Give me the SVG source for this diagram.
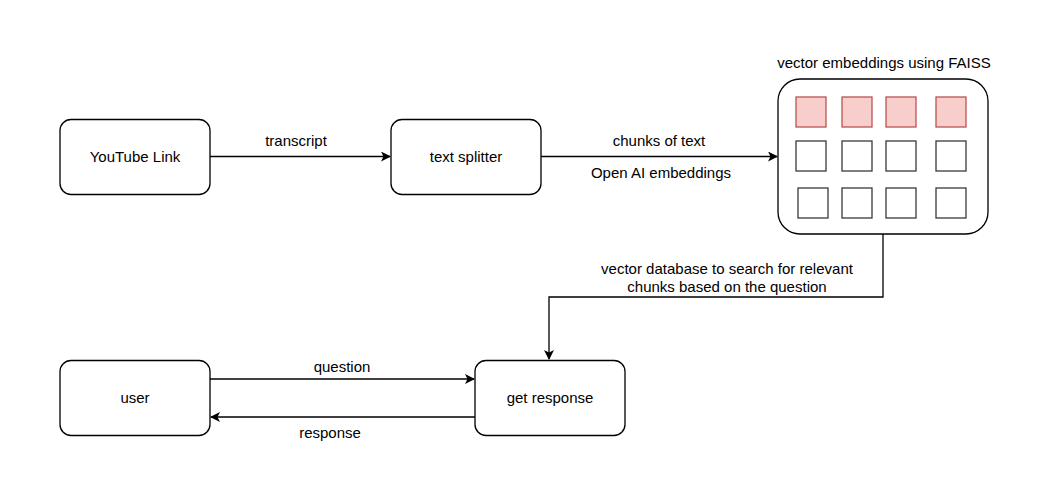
<svg xmlns="http://www.w3.org/2000/svg" width="1058" height="497" viewBox="0 0 1058 497">
<style>
.box{fill:#fff;stroke:#000;stroke-width:1.3}
.sq{fill:#fff;stroke:#36393d;stroke-width:1.3}
.sqr{fill:#f8cecc;stroke:#b85450;stroke-width:1.3}
.edge{fill:none;stroke:#000;stroke-width:1.3}
text{font-family:"Liberation Sans",Arial,Helvetica,sans-serif;font-size:15px;fill:#000;text-anchor:middle}
</style>
<defs>
<marker id="arr" viewBox="0 0 10 10" refX="9" refY="5" markerWidth="10" markerHeight="10" markerUnits="userSpaceOnUse" orient="auto">
<path d="M0,0 L10,5 L0,10 L2.5,5 Z" fill="#000"/>
</marker>
</defs>
<rect width="1058" height="497" fill="#fff"/>
<g id="connectors">
<path class="edge" d="M210,156.5 L390,156.5" marker-end="url(#arr)"/>
<text x="296" y="146">transcript</text>
<path class="edge" d="M541,156.5 L777,156.5" marker-end="url(#arr)"/>
<text x="659" y="146">chunks of text</text>
<text x="661" y="178">Open AI embeddings</text>
<path class="edge" d="M883,234 L883,297 L549,297 L549,359" marker-end="url(#arr)"/>
<text x="727" y="274">vector database to search for relevant</text>
<text x="727" y="292">chunks based on the question</text>
<path class="edge" d="M210,379 L474,379" marker-end="url(#arr)"/>
<text x="342" y="372">question</text>
<path class="edge" d="M475,417 L211,417" marker-end="url(#arr)"/>
<text x="330" y="438">response</text>
</g>
<g id="youtube">
<rect class="box" x="60" y="119.5" width="150" height="75" rx="11"/>
<text x="135" y="162">YouTube Link</text>
</g>
<g id="splitter">
<rect class="box" x="391" y="119.5" width="150" height="75" rx="11"/>
<text x="466" y="162">text splitter</text>
</g>
<g id="faiss">
<text x="884" y="68">vector embeddings using FAISS</text>
<rect class="box" x="778" y="79" width="210" height="155" rx="22"/>
<rect class="sqr" x="796" y="97" width="30" height="30"/>
<rect class="sqr" x="842" y="97" width="30" height="30"/>
<rect class="sqr" x="886" y="97" width="30" height="30"/>
<rect class="sqr" x="936" y="97" width="30" height="30"/>
<rect class="sq" x="796" y="141" width="30" height="30"/>
<rect class="sq" x="842" y="141" width="30" height="30"/>
<rect class="sq" x="886" y="141" width="30" height="30"/>
<rect class="sq" x="936" y="141" width="30" height="30"/>
<rect class="sq" x="798" y="188" width="30" height="30"/>
<rect class="sq" x="842" y="188" width="30" height="30"/>
<rect class="sq" x="886" y="188" width="30" height="30"/>
<rect class="sq" x="936" y="188" width="30" height="30"/>
</g>
<g id="user">
<rect class="box" x="60" y="360.5" width="150" height="75" rx="11"/>
<text x="135" y="403">user</text>
</g>
<g id="getresponse">
<rect class="box" x="475" y="360.5" width="150" height="75" rx="11"/>
<text x="550" y="403">get response</text>
</g>
</svg>
